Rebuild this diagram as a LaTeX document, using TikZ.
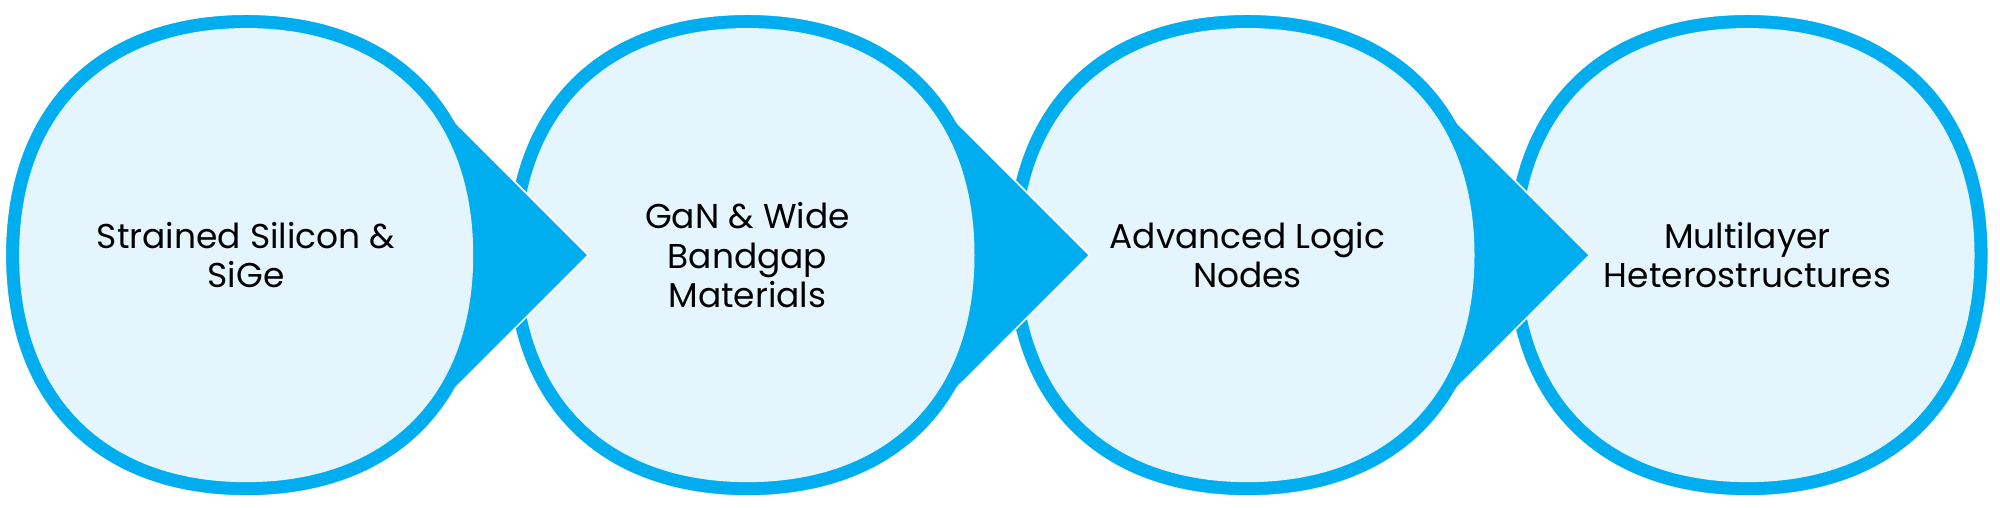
\documentclass[tikz,border=0pt]{standalone}
\usepackage{fontspec}
\setmainfont{Poppins}
\definecolor{ring}{HTML}{00AEEF}
\definecolor{inner}{HTML}{E4F5FE}
\newcommand{\sqpath}[2]{% center, radius
  ([shift={(#2,0)}]#1) .. controls ([shift={(#2,0.62*#2)}]#1) and ([shift={(0.62*#2,#2)}]#1) ..
  ([shift={(0,#2)}]#1) .. controls ([shift={(-0.62*#2,#2)}]#1) and ([shift={(-#2,0.62*#2)}]#1) ..
  ([shift={(-#2,0)}]#1) .. controls ([shift={(-#2,-0.62*#2)}]#1) and ([shift={(-0.62*#2,-#2)}]#1) ..
  ([shift={(0,-#2)}]#1) .. controls ([shift={(0.62*#2,-#2)}]#1) and ([shift={(#2,-0.62*#2)}]#1) ..
  ([shift={(#2,0)}]#1) -- cycle}
\begin{document}
\begin{tikzpicture}[x=1pt,y=-1pt,
  lbl/.style={align=center,font=\fontsize{27}{31}\selectfont,text=black}]
\useasboundingbox (0,0) rectangle (1568,398);
\foreach \cx/\nm in {1370/d,978/c,586/b,193/a}{
  \coordinate (\nm) at (\cx,200);
  \ifnum\cx<1300
  \fill[ring,draw=white,line width=1.5pt,line join=miter] ([shift={(120,-148)}]\nm) -- ([shift={(268,0)}]\nm) -- ([shift={(120,148)}]\nm) -- cycle;
  \fi
  \draw[fill=ring,draw=white,line width=1.5pt] \sqpath{\nm}{189};
  \ifnum\cx<1300
  \fill[ring] ([shift={(120,-147)}]\nm) -- ([shift={(267,0)}]\nm) -- ([shift={(120,147)}]\nm) -- cycle;
  \fi
  \fill[inner] \sqpath{\nm}{178};
}
\node[lbl] (ta) at (a) {Strained Silicon \&\\SiGe};
\node[lbl] (tb) at (b) {GaN \& Wide\\Bandgap\\Materials};
\node[lbl] (tc) at (c) {Advanced Logic\\Nodes};
\node[lbl] (td) at (d) {Multilayer\\Heterostructures};
\end{tikzpicture}
\end{document}
